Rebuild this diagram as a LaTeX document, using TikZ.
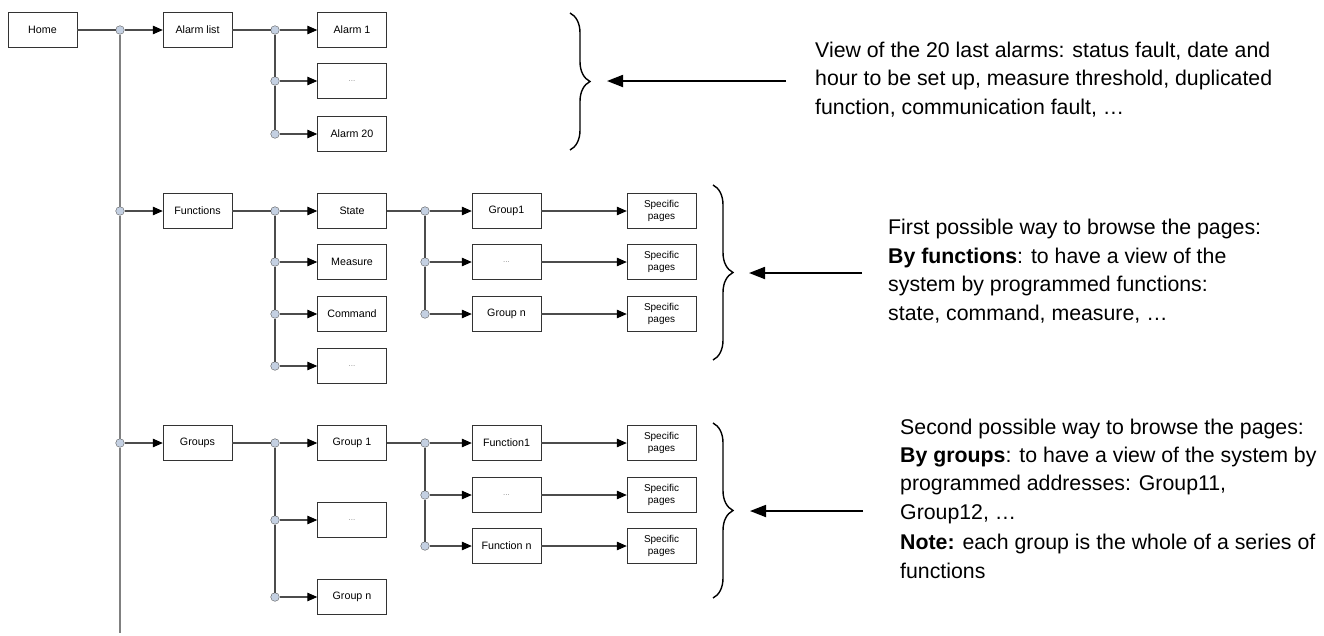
\documentclass[tikz,border=0pt]{standalone}
\usepackage{fontspec}
\setmainfont{Liberation Sans}
\usepackage{tikz}
\usetikzlibrary{arrows.meta}
\usetikzlibrary{decorations.pathreplacing}
\definecolor{jfill}{RGB}{196,208,226}

\begin{document}
\begin{tikzpicture}[x=1pt,y=-1pt,screen/.style={draw=black!80,fill=white,minimum width=69pt,minimum height=35pt,inner sep=0pt,font=\fontsize{10.7}{13}\selectfont},dots/.style={screen,text=black!45,font=\fontsize{8}{10}\selectfont},spec/.style={screen,align=center,font=\fontsize{10}{12.5}\selectfont},
	junc/.style={circle,draw=black!65,fill=jfill,minimum size=8.6pt,inner sep=0pt},wire/.style={draw=black!70,line width=1.1pt},feed/.style={wire,-{Triangle[length=10pt,width=8.5pt,black]}},trunk/.style={draw=black!50,line width=1.3pt},
	note/.style={anchor=base west,align=left,inner sep=0pt,font=\fontsize{21.3}{28.4}\selectfont},curly/.style={decorate,decoration={brace,amplitude=20pt},line width=1.4pt},point/.style={line width=1.8pt,-{Triangle[length=16pt,width=12pt]}}]
	\useasboundingbox (0,0) rectangle (1324,635);
	\node[screen] (home) at (42.5,30) {Home};
	\node[junc] (j0) at (120,30) {};
	\node[junc] (jf) at (120,211) {};
	\node[junc] (jg) at (120,443) {};
	\coordinate (mainend) at (120,633);
	\draw[trunk] (j0) -- (jf) -- (jg) -- (mainend);
	\draw[wire] (home) -- (j0);

	\node[screen] (alarms) at (197.5,30) {Alarm list};
	\node[junc] (ja1) at (275,30) {};
	\node[junc] (ja2) at (275,81) {};
	\node[junc] (ja3) at (275,134) {};
	\node[screen] (alarm1) at (352,30) {Alarm 1};
	\node[dots] (adots) at (352,81) {...};
	\node[screen] (alarm20) at (352,134) {Alarm 20};
	\draw[feed] (j0) -- (alarms);
	\draw[wire] (alarms) -- (ja1);
	\draw[wire] (ja1) -- (ja2) -- (ja3);
	\draw[feed] (ja1) -- (alarm1);
	\draw[feed] (ja2) -- (adots);
	\draw[feed] (ja3) -- (alarm20);

	\node[screen] (func) at (197.5,211) {Functions};
	\node[junc] (jf1) at (275,211) {};
	\node[junc] (jf2) at (275,262) {};
	\node[junc] (jf3) at (275,314) {};
	\node[junc] (jf4) at (275,366) {};
	\node[screen] (state) at (352,211) {State};
	\node[screen] (meas) at (352,262) {Measure};
	\node[screen] (cmd) at (352,314) {Command};
	\node[dots] (fdots) at (352,366) {...};
	\draw[feed] (jf) -- (func);
	\draw[wire] (func) -- (jf1);
	\draw[wire] (jf1) -- (jf2) -- (jf3) -- (jf4);
	\draw[feed] (jf1) -- (state);
	\draw[feed] (jf2) -- (meas);
	\draw[feed] (jf3) -- (cmd);
	\draw[feed] (jf4) -- (fdots);
	\node[junc] (js1) at (425,211) {};
	\node[junc] (js2) at (425,262) {};
	\node[junc] (js3) at (425,314) {};
	\node[screen] (grpa) at (506.5,211) {Group1};
	\node[dots] (gdotsa) at (506.5,262) {...};
	\node[screen] (grpna) at (506.5,314) {Group n};
	\node[spec] (spa1) at (661.5,211) {Specific\\pages};
	\node[spec] (spa2) at (661.5,262) {Specific\\pages};
	\node[spec] (spa3) at (661.5,314) {Specific\\pages};
	\draw[wire] (state) -- (js1);
	\draw[wire] (js1) -- (js2) -- (js3);
	\draw[feed] (js1) -- (grpa);
	\draw[feed] (js2) -- (gdotsa);
	\draw[feed] (js3) -- (grpna);
	\draw[feed] (grpa) -- (spa1);
	\draw[feed] (gdotsa) -- (spa2);
	\draw[feed] (grpna) -- (spa3);

	\node[screen] (grps) at (197.5,443) {Groups};
	\node[junc] (jg1) at (275,443) {};
	\node[junc] (jg2) at (275,520) {};
	\node[junc] (jg3) at (275,597) {};
	\node[screen] (grp1) at (352,443) {Group 1};
	\node[dots] (grpdots) at (352,520) {...};
	\node[screen] (grpn) at (352,597) {Group n};
	\draw[feed] (jg) -- (grps);
	\draw[wire] (grps) -- (jg1);
	\draw[wire] (jg1) -- (jg2) -- (jg3);
	\draw[feed] (jg1) -- (grp1);
	\draw[feed] (jg2) -- (grpdots);
	\draw[feed] (jg3) -- (grpn);
	\node[junc] (jh1) at (425,443) {};
	\node[junc] (jh2) at (425,495) {};
	\node[junc] (jh3) at (425,546) {};
	\node[screen] (fun1) at (506.5,443) {Function1};
	\node[dots] (fundots) at (506.5,495) {...};
	\node[screen] (funn) at (506.5,546) {Function n};
	\node[spec] (spb1) at (661.5,443) {Specific\\pages};
	\node[spec] (spb2) at (661.5,495) {Specific\\pages};
	\node[spec] (spb3) at (661.5,546) {Specific\\pages};
	\draw[wire] (grp1) -- (jh1);
	\draw[wire] (jh1) -- (jh2) -- (jh3);
	\draw[feed] (jh1) -- (fun1);
	\draw[feed] (jh2) -- (fundots);
	\draw[feed] (jh3) -- (funn);
	\draw[feed] (fun1) -- (spb1);
	\draw[feed] (fundots) -- (spb2);
	\draw[feed] (funn) -- (spb3);

	\draw[curly] (570,13) -- (570,150);
	\draw[curly] (713,185) -- (713,360);
	\draw[curly] (713,423) -- (713,598);
	\coordinate (p1s) at (786,81);
	\coordinate (p1e) at (607,81);
	\coordinate (p2s) at (862,273);
	\coordinate (p2e) at (749,273);
	\coordinate (p3s) at (863,511);
	\coordinate (p3e) at (750,511);
	\draw[point] (p1s) -- (p1e);
	\draw[point] (p2s) -- (p2e);
	\draw[point] (p3s) -- (p3e);
	\node[note] (txtalarm) at (815,114) {View of the 20 last alarms: status fault, date and\\hour to be set up, measure threshold, duplicated\\function, communication fault, …};
	\node[note] (txtfunc) at (888,320) {First possible way to browse the pages:\\\textbf{By functions}: to have a view of the\\system by programmed functions:\\state, command, measure, …};
	\node[note] (txtgrp) at (900,578) {Second possible way to browse the pages:\\\textbf{By groups}: to have a view of the system by\\programmed addresses: Group11,\\Group12, …\\[2pt]\textbf{Note:} each group is the whole of a series of\\functions};
\end{tikzpicture}
\end{document}
